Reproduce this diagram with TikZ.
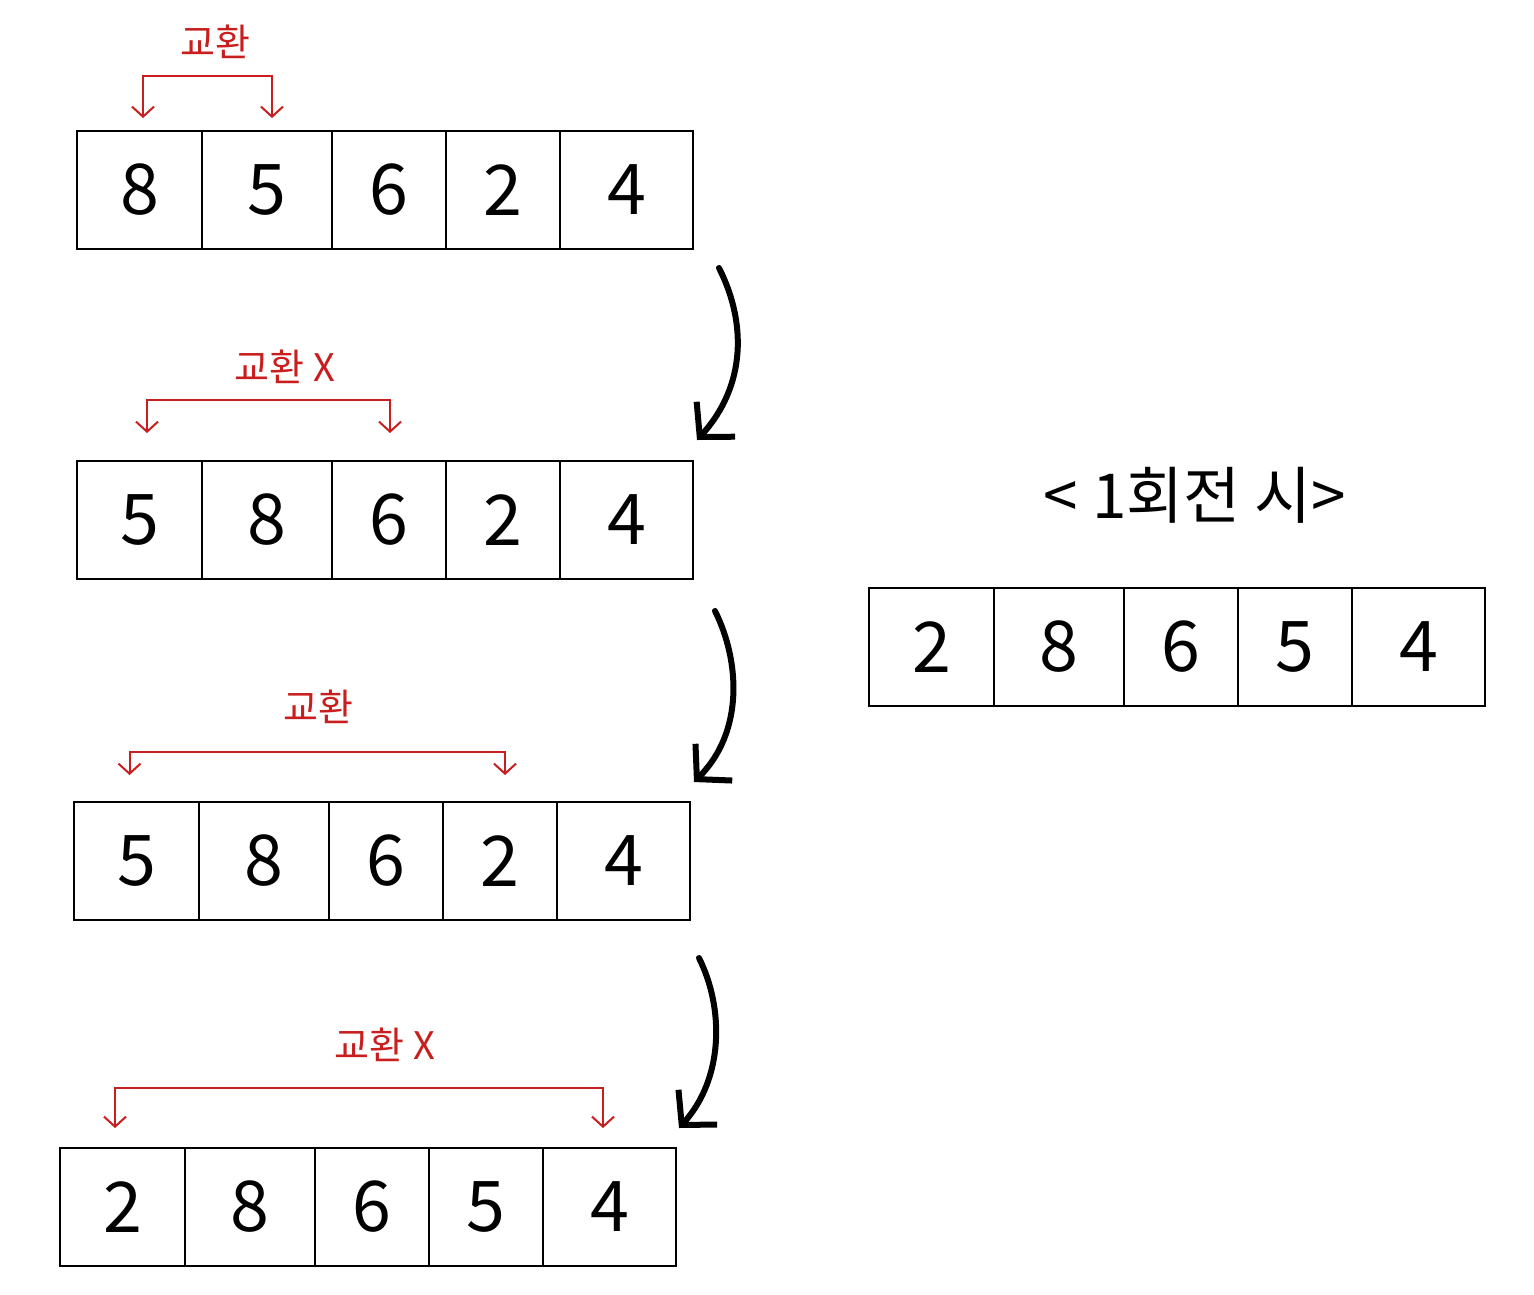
\documentclass[tikz,border=0pt]{standalone}
\usepackage{fontspec}
\setmainfont{Noto Sans CJK KR}
\usetikzlibrary{arrows.meta}
\definecolor{swapred}{RGB}{200,30,30}
\tikzset{
  cella/.style={draw, line width=2pt, minimum width=#1, minimum height=118pt,
    inner sep=0pt, anchor=north west, font=\fontsize{70}{70}\selectfont},
  swap/.style={swapred, line width=2pt,
    {Straight Barb[length=10pt,width=22pt]}-{Straight Barb[length=10pt,width=22pt]}},
  swaplab/.style={swapred, font=\fontsize{38}{38}\selectfont},
  flow/.style={line width=6pt, line cap=round, -{Straight Barb[length=24pt,width=52pt]}}
}
\begin{document}
\begin{tikzpicture}[x=1pt, y=-1pt]
  \useasboundingbox (0,0) rectangle (1534,1294);
  % righe dell'array
  \foreach \r/\x/\y/\vals in {a/76/130/{8,5,6,2,4}, b/76/460/{5,8,6,2,4},
                              c/73/801/{5,8,6,2,4}, d/59/1147/{2,8,6,5,4},
                              e/868/587/{2,8,6,5,4}} {
    \foreach \v [count=\k] in \vals {
      \pgfmathsetmacro{\dx}{{0,125,255,369,483}[\k-1]}
      \pgfmathsetmacro{\w}{{125,130,114,114,133}[\k-1]}
      \node[cella=\w pt] (\r\k) at (\x+\dx,\y) {\v};
    }
  }
  % scambi
  \draw[swap] ([xshift=3.5pt,yshift=12pt]a1.north) -- ++(0,-42) -| ([xshift=5pt,yshift=12pt]a2.north);
  \node[swaplab] (l1) at (215,42) {교환};
  \draw[swap] ([xshift=7.5pt,yshift=27pt]b1.north) -- ++(0,-33) -| ([xshift=1pt,yshift=27pt]b3.north);
  \node[swaplab] (l2) at (285,367) {교환 X};
  \draw[swap] ([xshift=-7pt,yshift=26pt]c1.north) -- ++(0,-23) -| ([xshift=5pt,yshift=26pt]c4.north);
  \node[swaplab] (l3) at (318,707) {교환};
  \draw[swap] ([xshift=-7.5pt,yshift=19pt]d1.north) -- ++(0,-40) -| ([xshift=-6.5pt,yshift=19pt]d5.north);
  \node[swaplab] (l4) at (385,1045) {교환 X};
  % frecce tra le righe
  \draw[flow] ([shift={(25pt,-18pt)}]a5.south east) .. controls +(27,53) and +(50,-55) .. ([shift={(3pt,20pt)}]b5.north east);
  \draw[flow] ([shift={(21pt,-31pt)}]b5.south east) .. controls +(25,50) and +(50,-50) .. ([shift={(3pt,19pt)}]c5.north east);
  \draw[flow] ([shift={(8pt,-37pt)}]c5.south east) .. controls +(25,50) and +(45,-50) .. ([shift={(2pt,19pt)}]d5.north east);
  % risultato
  \node[font=\fontsize{62}{62}\selectfont] (tit) at (1195,495) {< 1회전 시>};
\end{tikzpicture}
\end{document}
